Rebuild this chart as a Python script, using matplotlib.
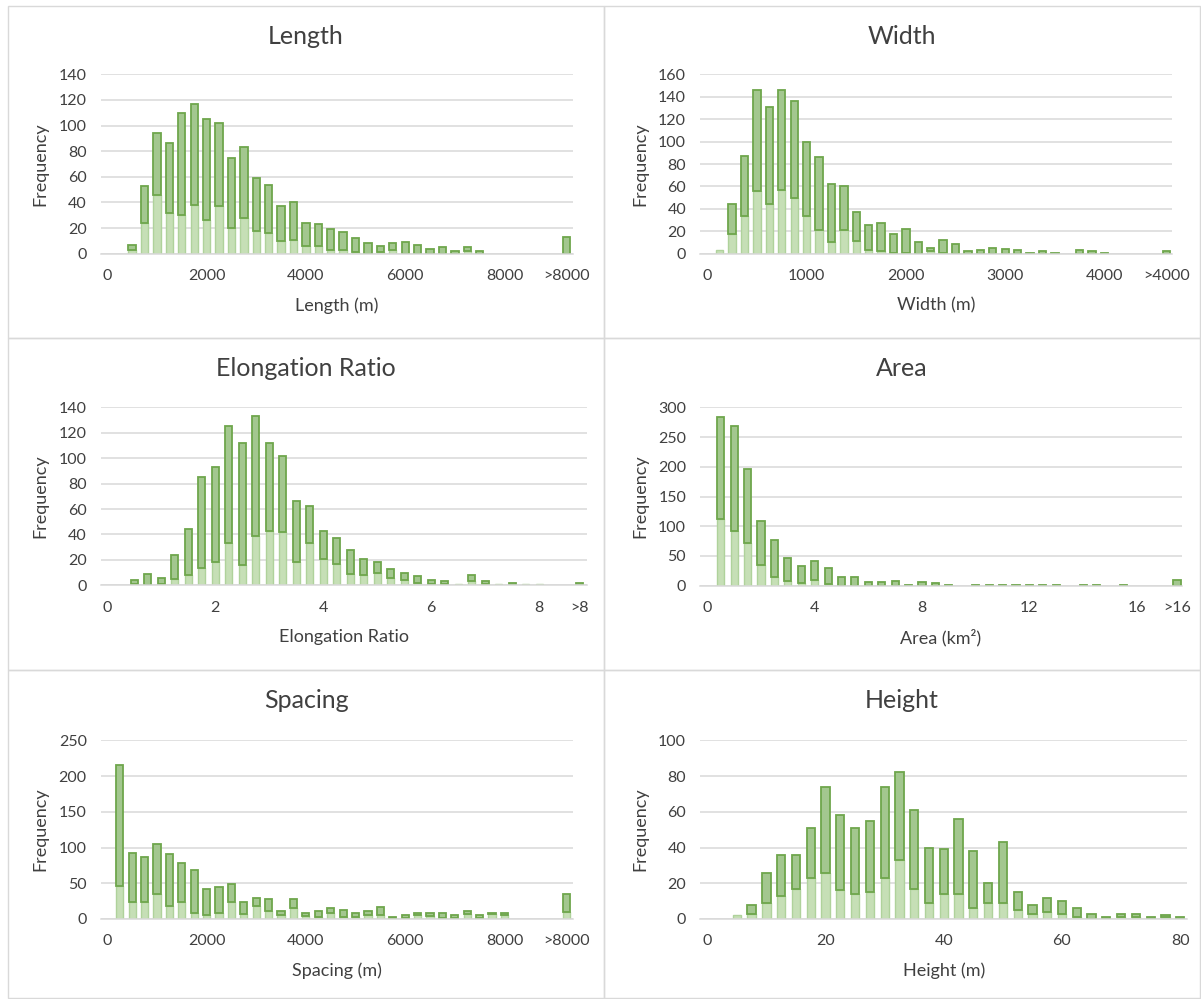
import matplotlib
matplotlib.use('Agg')
import matplotlib.pyplot as plt
from matplotlib.patches import Rectangle

# ---------------- data ----------------
length_bins = [500, 750, 1000, 1250, 1500, 1750, 2000, 2250, 2500, 2750, 3000, 3250, 3500, 3750,
               4000, 4250, 4500, 4750, 5000, 5250, 5500, 5750, 6000, 6250, 6500, 6750, 7000, 7250,
               7500, 9250]
length_lower = [3, 24, 46, 32, 30, 38, 26, 37, 20, 28, 18, 16, 10, 11, 6, 6, 3, 3, 1, 0, 1, 3, 0, 0,
                0, 0, 0, 2, 0, 0]
length_upper = [4, 29, 48, 54, 80, 79, 79, 65, 55, 55, 41, 38, 27, 29, 18, 17, 16, 14, 11, 8, 5, 5, 9,
                7, 4, 5, 2, 3, 2, 13]
length_ticks = [0, 2000, 4000, 6000, 8000, 9250]
length_ticklabels = ['0', '2000', '4000', '6000', '8000', '>8000']
length_yticks = [0, 20, 40, 60, 80, 100, 120, 140]

width_bins = [125, 250, 375, 500, 625, 750, 875, 1000, 1125, 1250, 1375, 1500, 1625, 1750, 1875,
              2000, 2125, 2250, 2375, 2500, 2625, 2750, 2875, 3000, 3125, 3250, 3375, 3500, 3625,
              3750, 3875, 4000, 4625]
width_lower = [3, 18, 34, 56, 44, 57, 50, 34, 21, 10, 21, 11, 3, 2, 1, 1, 0, 2, 1, 0, 0, 0, 0, 0, 0,
               0, 0, 0, 0, 0, 0, 0, 0]
width_upper = [0, 26, 53, 90, 87, 89, 86, 66, 65, 52, 39, 26, 23, 25, 17, 21, 10, 3, 11, 9, 2, 3, 5,
               4, 3, 1, 2, 1, 0, 3, 2, 1, 2]
width_ticks = [0, 1000, 2000, 3000, 4000, 4625]
width_ticklabels = ['0', '1000', '2000', '3000', '4000', '>4000']
width_yticks = [0, 20, 40, 60, 80, 100, 120, 140, 160]

elong_bins = [0.5, 0.75, 1.0, 1.25, 1.5, 1.75, 2.0, 2.25, 2.5, 2.75, 3.0, 3.25, 3.5, 3.75, 4.0,
              4.25, 4.5, 4.75, 5.0, 5.25, 5.5, 5.75, 6.0, 6.25, 6.5, 6.75, 7.0, 7.25, 7.5, 7.75,
              8.0, 8.75]
elong_lower = [1, 0, 1, 5, 8, 14, 18, 33, 16, 39, 43, 42, 18, 33, 21, 17, 9, 8, 10, 6, 4, 2, 1, 1,
               1, 3, 1, 1, 0, 1, 1, 0]
elong_upper = [3, 9, 5, 19, 36, 71, 75, 92, 96, 94, 69, 60, 48, 29, 22, 20, 19, 13, 8, 7, 6, 5, 3,
               2, 0, 5, 2, 0, 2, 0, 0, 2]
elong_ticks = [0, 2, 4, 6, 8, 8.75]
elong_ticklabels = ['0', '2', '4', '6', '8', '>8']
elong_yticks = [0, 20, 40, 60, 80, 100, 120, 140]

area_bins = [0.5, 1.0, 1.5, 2.0, 2.5, 3.0, 3.5, 4.0, 4.5, 5.0, 5.5, 6.0, 6.5, 7.0, 7.5, 8.0, 8.5,
             9.0, 9.5, 10.0, 10.5, 11.0, 11.5, 12.0, 12.5, 13.0, 13.5, 14.0, 14.5, 15.0, 15.5,
             16.0, 17.5]
area_lower = [112, 92, 72, 35, 15, 8, 5, 10, 3, 0, 0, 0, 0, 0, 0, 0, 0, 0, 0, 0, 0, 0, 0, 0, 0, 0,
              0, 0, 0, 0, 0, 0, 0]
area_upper = [172, 177, 125, 73, 62, 39, 28, 32, 26, 15, 15, 6, 6, 8, 2, 6, 4, 2, 0, 2, 2, 2, 2, 2,
              2, 2, 0, 2, 2, 0, 2, 0, 9]
area_ticks = [0, 4, 8, 12, 16, 17.5]
area_ticklabels = ['0', '4', '8', '12', '16', '>16']
area_yticks = [0, 50, 100, 150, 200, 250, 300]

spacing_bins = [250, 500, 750, 1000, 1250, 1500, 1750, 2000, 2250, 2500, 2750, 3000, 3250, 3500,
                3750, 4000, 4250, 4500, 4750, 5000, 5250, 5500, 5750, 6000, 6250, 6500, 6750,
                7000, 7250, 7500, 7750, 8000, 9250]
spacing_lower = [46, 24, 24, 35, 18, 24, 9, 5, 9, 24, 7, 18, 11, 5, 15, 4, 3, 9, 3, 3, 6, 5, 1, 2,
                 5, 4, 2, 2, 7, 2, 7, 5, 10]
spacing_upper = [169, 69, 63, 70, 73, 54, 60, 37, 36, 25, 17, 12, 17, 6, 13, 5, 8, 6, 10, 6, 5, 12,
                 2, 4, 4, 4, 6, 4, 4, 4, 2, 3, 25]
spacing_ticks = [0, 2000, 4000, 6000, 8000, 9250]
spacing_ticklabels = ['0', '2000', '4000', '6000', '8000', '>8000']
spacing_yticks = [0, 50, 100, 150, 200, 250]

height_bins = [5, 7.5, 10, 12.5, 15, 17.5, 20, 22.5, 25, 27.5, 30, 32.5, 35, 37.5, 40, 42.5, 45,
               47.5, 50, 52.5, 55, 57.5, 60, 62.5, 65, 67.5, 70, 72.5, 75, 77.5, 80]
height_lower = [2, 3, 9, 13, 17, 23, 26, 16, 14, 15, 23, 33, 17, 9, 14, 14, 6, 9, 9, 5, 3, 4, 3, 1,
                0, 0, 1, 1, 0, 1, 0]
height_upper = [0, 5, 17, 23, 19, 28, 48, 42, 37, 40, 51, 49, 44, 31, 25, 42, 32, 11, 34, 10, 5, 8,
                7, 5, 3, 1, 2, 2, 1, 1, 1]
height_ticks = [0, 20, 40, 60, 80]
height_ticklabels = ['0', '20', '40', '60', '80']
height_yticks = [0, 20, 40, 60, 80, 100]

# ---------------- style ----------------
FONT = ['Lato', 'DejaVu Sans']
plt.rcParams['font.family'] = FONT
TXT = '#404040'
GRID = '#d9d9d9'
LIGHT_FACE = '#c6dfb6'
LIGHT_EDGE = '#afd29b'
DARK_FACE = '#a3c78f'
DARK_EDGE = '#6ea64c'

W, H = 1201, 999
fig = plt.figure(figsize=(W / 100, H / 100), dpi=100)
fig.patch.set_facecolor('white')


def fx(x):
    return x / W


def fy(y):
    return 1 - y / H


panels = [
    dict(title='Length', xlabel='Length (m)', bins=length_bins, lower=length_lower,
         upper=length_upper, ticks=length_ticks, ticklabels=length_ticklabels,
         yticks=length_yticks, box=(100.7, 74.3, 573.3, 253.7), xlim=(-133, 9386), bw=148,
         frame=(8, 6, 604, 338)),
    dict(title='Width', xlabel='Width (m)', bins=width_bins, lower=width_lower,
         upper=width_upper, ticks=width_ticks, ticklabels=width_ticklabels,
         yticks=width_yticks, box=(700, 74.3, 1172.3, 253.7), xlim=(-73.5, 4683), bw=74,
         frame=(604, 6, 1200, 338)),
    dict(title='Elongation Ratio', xlabel='Elongation Ratio', bins=elong_bins, lower=elong_lower,
         upper=elong_upper, ticks=elong_ticks, ticklabels=elong_ticklabels,
         yticks=elong_yticks, box=(100.7, 407.3, 586.7, 585.3), xlim=(-0.122, 8.878), bw=0.135,
         frame=(8, 338, 604, 670)),
    dict(title='Area', xlabel='Area (km²)', bins=area_bins, lower=area_lower,
         upper=area_upper, ticks=area_ticks, ticklabels=area_ticklabels,
         yticks=area_yticks, box=(700, 407.3, 1181.7, 585.7), xlim=(-0.272, 17.675), bw=0.265,
         frame=(604, 338, 1200, 670)),
    dict(title='Spacing', xlabel='Spacing (m)', bins=spacing_bins, lower=spacing_lower,
         upper=spacing_upper, ticks=spacing_ticks, ticklabels=spacing_ticklabels,
         yticks=spacing_yticks, box=(100.7, 740.3, 573.3, 919), xlim=(-133, 9386), bw=145,
         frame=(8, 670, 604, 998)),
    dict(title='Height', xlabel='Height (m)', bins=height_bins, lower=height_lower,
         upper=height_upper, ticks=height_ticks, ticklabels=height_ticklabels,
         yticks=height_yticks, box=(700, 740.3, 1187.3, 919), xlim=(-1.235, 81.2), bw=1.4,
         frame=(604, 670, 1200, 998)),
]

for p in panels:
    l, t, r, b = p['box']
    ax = fig.add_axes([fx(l), fy(b), (r - l) / W, (b - t) / H])
    ax.set_facecolor('none')

    xs_l = [x for x, v in zip(p['bins'], p['lower']) if v > 0]
    vs_l = [v for v in p['lower'] if v > 0]
    ax.bar(xs_l, vs_l, width=p['bw'], color=LIGHT_FACE, edgecolor=LIGHT_EDGE,
           linewidth=1.0, zorder=3)
    xs_u = [x for x, v in zip(p['bins'], p['upper']) if v > 0]
    bs_u = [lo for lo, v in zip(p['lower'], p['upper']) if v > 0]
    vs_u = [v for v in p['upper'] if v > 0]
    ax.bar(xs_u, vs_u, bottom=bs_u, width=p['bw'], color=DARK_FACE, edgecolor=DARK_EDGE,
           linewidth=1.3, zorder=4)

    ax.set_xlim(*p['xlim'])
    ax.set_ylim(0, p['yticks'][-1])
    ax.set_yticks(p['yticks'])
    ax.set_xticks(p['ticks'])
    ax.set_xticklabels(p['ticklabels'])
    ax.yaxis.grid(True, color=GRID, linewidth=1.1, zorder=0)
    ax.set_axisbelow(True)
    for s in ['top', 'right', 'left']:
        ax.spines[s].set_visible(False)
    ax.spines['bottom'].set_color(GRID)
    ax.spines['bottom'].set_linewidth(1.1)
    ax.spines['bottom'].set_zorder(5)
    ax.tick_params(axis='both', length=0, labelsize=11.5, labelcolor=TXT)
    ax.tick_params(axis='y', pad=10)
    ax.tick_params(axis='x', pad=11)

    # titles and axis titles
    fl, ft, fr, fb = p['frame']
    fig.text(fx((fl + fr) / 2), fy(ft + 31), p['title'], ha='center', va='center',
             fontsize=18, color=TXT)
    fig.text(fx((l + r) / 2), fy(b + 52), p['xlabel'], ha='center', va='center',
             fontsize=13, color=TXT)
    fig.text(fx(l - 60), fy((t + b) / 2), 'Frequency', ha='center', va='center',
             rotation=90, fontsize=13, color=TXT)

    fig.add_artist(Rectangle((fx(fl), fy(fb)), (fr - fl) / W, (fb - ft) / H,
                             transform=fig.transFigure, fill=False, edgecolor=GRID,
                             linewidth=1.0))

fig.savefig('out.png', dpi=100, facecolor='white')
